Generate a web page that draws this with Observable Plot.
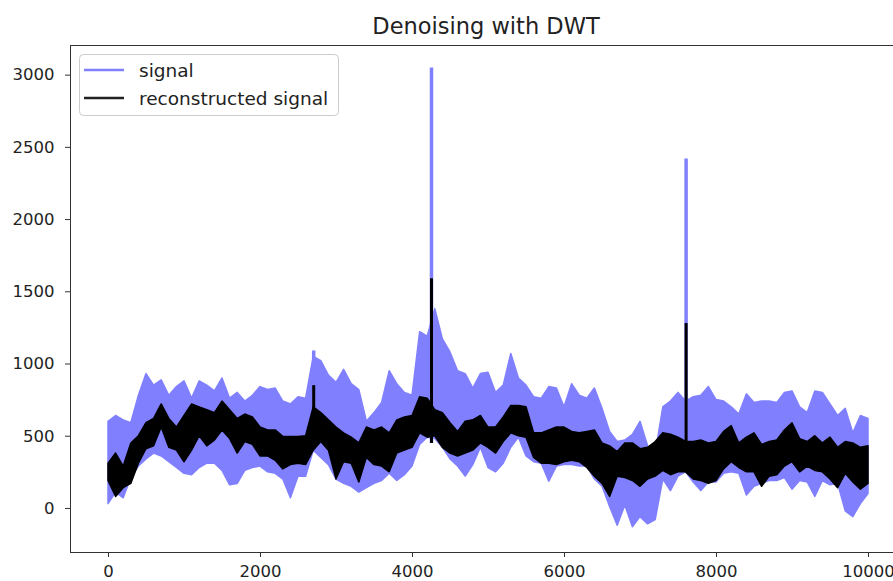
<!DOCTYPE html>
<html>
<head>
<meta charset="utf-8">
<script src="https://cdn.jsdelivr.net/npm/d3@7"></script>
<script src="https://cdn.jsdelivr.net/npm/@observablehq/plot@0.6"></script>
<style>
  html, body { margin: 0; padding: 0; background: #fff; overflow: hidden; }
  #wrap { position: relative; width: 893px; height: 581px; overflow: hidden; font-family: "DejaVu Sans", sans-serif; }
  #title { position: relative; height: 44px; }
  #title span { position: absolute; left: 486px; top: 13px; transform: translateX(-50%); font-size: 22.5px; color: #222; white-space: nowrap; line-height: normal; }
  #chart svg { max-width: none !important; }
  #legend { position: absolute; left: 78px; top: 53px; }
</style>
</head>
<body>
<div id="wrap">
  <div id="title"><span>Denoising with DWT</span></div>
  <div id="chart"></div>
  <svg id="legend" width="264" height="66"></svg>
</div>
<script>
// sample spacing (x units) of the hand-read envelopes below
const sampleStep = 100;

// "signal" envelope (upper / lower), x = 0, 100, ..., 10000
const signalHigh = [
  600,640,610,590,780,930,850,887,780,840,
  880,760,880,850,810,900,760,800,740,780,
  840,820,830,740,720,770,760,1050,1020,920,
  870,960,860,820,600,660,730,950,860,800,
  780,1220,1190,1380,1170,1080,950,930,830,930,
  940,800,850,1070,900,850,770,760,840,830,
  700,860,780,760,830,690,530,460,470,510,
  600,430,380,700,740,800,740,770,780,840,
  750,740,700,650,790,730,740,740,730,800,
  810,700,660,810,800,720,640,690,520,640,
  620];
const signalLow = [
  30,110,70,210,290,340,380,360,320,280,
  240,230,280,310,310,260,160,170,260,280,
  290,250,240,200,70,220,220,400,350,300,
  200,170,150,110,140,170,190,240,190,230,
  290,440,490,480,420,340,290,220,300,420,
  280,250,310,420,490,360,320,310,185,290,
  300,300,290,290,200,150,10,-120,20,-130,
  -60,-110,-80,200,120,220,250,180,120,180,
  180,240,250,240,90,150,170,190,190,210,
  130,190,180,80,190,160,170,-20,-60,30,
  100];

// "reconstructed signal" envelope (upper / lower)
const reconHigh = [
  310,380,290,450,500,590,620,720,620,560,
  640,720,700,680,660,740,680,620,650,630,
  560,540,540,495,495,495,500,700,660,610,
  560,520,490,450,560,540,560,520,610,630,
  640,770,760,680,660,590,530,600,610,640,
  560,560,630,710,710,700,520,520,540,560,
  560,530,520,530,540,450,430,390,450,450,
  410,420,460,520,510,490,460,460,470,450,
  460,530,570,450,490,520,440,460,470,540,
  590,480,460,500,450,490,420,460,450,420,
  430];
const reconLow = [
  190,80,140,170,310,410,430,560,420,400,
  320,400,500,430,470,540,480,380,460,440,
  360,360,330,270,300,310,300,400,460,400,
  200,320,310,180,350,300,290,250,380,400,
  420,520,490,500,420,380,360,380,400,450,
  420,380,460,520,500,490,350,310,310,300,
  320,330,320,280,220,170,80,220,210,190,
  150,200,220,260,230,250,250,200,190,170,
  190,270,320,280,250,250,150,220,230,290,
  320,250,290,260,250,200,140,240,180,130,
  170];

// narrow spikes
const peakX = [2700, 4250, 7600];
const peakSignal = [1090, 3050, 2420];
const peakRecon = [850, 1590, 1280];

// axis ticks
const xTicks = [0, 2000, 4000, 6000, 8000, 10000];
const yTicks = [0, 500, 1000, 1500, 2000, 2500, 3000];

const blue = "#8080ff";

const rows = signalHigh.map((v, i) => ({
  x: i * sampleStep,
  sHi: v, sLo: signalLow[i],
  rHi: reconHigh[i], rLo: reconLow[i]
}));
const peaks = peakX.map((x, i) => ({x, sig: peakSignal[i], rec: peakRecon[i], base: 450}));

const chart = Plot.plot({
  width: 910,
  height: 537,
  marginLeft: 70,
  marginRight: 4,
  marginTop: 1,
  marginBottom: 29,
  style: {fontFamily: "DejaVu Sans", fontSize: "16.5px", color: "#222", background: "#fff", maxWidth: "none"},
  x: {domain: [-500, 10500], ticks: xTicks, tickFormat: "d", label: null},
  y: {domain: [-305, 3205], ticks: yTicks, tickFormat: "d", label: null},
  marks: [
    Plot.areaY(rows, {x: "x", y1: "sLo", y2: "sHi", fill: blue, stroke: blue, strokeWidth: 1.5, curve: "linear"}),
    Plot.ruleX(peaks, {x: "x", y1: "base", y2: "sig", stroke: blue, strokeWidth: 3.5}),
    Plot.areaY(rows, {x: "x", y1: "rLo", y2: "rHi", fill: "#000", stroke: "#000", strokeWidth: 1.5, curve: "linear"}),
    Plot.ruleX(peaks, {x: "x", y1: "base", y2: "rec", stroke: "#000", strokeWidth: 3}),
    Plot.frame({stroke: "#333", strokeWidth: 1}),
    Plot.axisX({ticks: xTicks, tickFormat: "d", tickSize: 5, tickPadding: 8, label: null, stroke: "#333"}),
    Plot.axisY({ticks: yTicks, tickFormat: "d", tickSize: 5, tickPadding: 11, label: null, stroke: "#333"})
  ]
});
document.getElementById("chart").append(chart);

// legend
const lg = d3.select("#legend");
lg.append("rect").attr("x", 1.5).attr("y", 1.5).attr("width", 259).attr("height", 61)
  .attr("rx", 4).attr("fill", "rgba(255,255,255,0.8)").attr("stroke", "#ccc");
const items = [{name: "signal", color: blue}, {name: "reconstructed signal", color: "#222"}];
items.forEach((it, i) => {
  const cy = 17 + i * 28;
  lg.append("line").attr("x1", 6).attr("x2", 46).attr("y1", cy).attr("y2", cy)
    .attr("stroke", it.color).attr("stroke-width", 2.5);
  lg.append("text").attr("x", 61).attr("y", cy + 6.5)
    .attr("font-family", "DejaVu Sans").attr("font-size", "18.5px").attr("fill", "#222")
    .text(it.name);
});
</script>
</body>
</html>
